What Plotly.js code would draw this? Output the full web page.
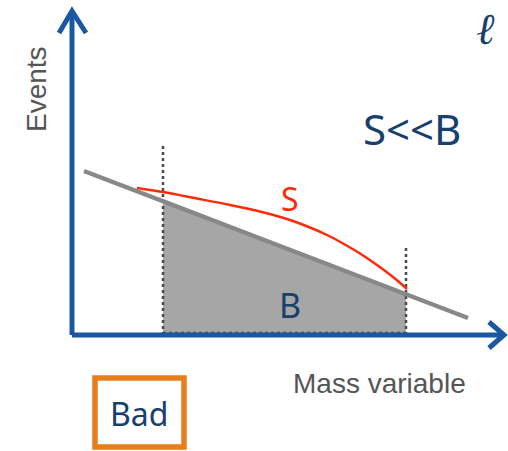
<!DOCTYPE html>
<html>
<head>
<meta charset="utf-8">
<script src="https://cdn.plot.ly/plotly-3.0.1.min.js"></script>
<style>html,body{margin:0;padding:0;background:#fff;}#chart{width:508px;height:451px;}</style>
</head>
<body>
<div id="chart"></div>
<script>
// Background model line (mass variable vs events)
const bkgX = [12, 396];
const bkgY = [164, 17];
// Signal + background curve
const sigX = [65, 91, 125, 158, 188, 205, 221, 238, 255, 271, 288, 305, 321, 335];
const sigY = [147, 143, 136.5, 130, 123.5, 119, 114, 107.5, 100, 91.5, 81.5, 70, 58, 46];
// Mass window (shaded background region)
const winX = [91, 91, 334, 334];
const winY = [0, 136, 42, 0];
// Window edges (dotted)
const leftCutX = [91, 91], leftCutY = [0, 191];
const rightCutX = [334, 334], rightCutY = [0, 90];
const floorX = [91, 334], floorY = [2, 2];
// Axes with arrows
const yAxX = [0, 0, null, -13, 0, 14], yAxY = [0, 324, null, 302, 324, 302];
const xAxX = [0, 432, null, 417, 432, 417], xAxY = [0, 0, null, 13, 0, -13];

const navy = '#17406d';
const blue = '#1a58a3';

const traces = [
  {x: winX, y: winY, mode: 'lines', fill: 'toself', fillcolor: '#a6a6a6', line: {width: 0, color: '#a6a6a6'}, hoverinfo: 'skip'},
  {x: leftCutX, y: leftCutY, mode: 'lines', line: {color: '#4a4a4a', width: 2.5, dash: 'dot'}},
  {x: rightCutX, y: rightCutY, mode: 'lines', line: {color: '#4a4a4a', width: 2.5, dash: 'dot'}},
  {x: floorX, y: floorY, mode: 'lines', line: {color: '#4a4a4a', width: 2.5, dash: 'dot'}},
  {x: bkgX, y: bkgY, mode: 'lines', line: {color: '#888888', width: 4.5}},
  {x: sigX, y: sigY, mode: 'lines', line: {color: '#ff2a0a', width: 2.5, shape: 'spline', smoothing: 1}},
  {x: yAxX, y: yAxY, mode: 'lines', line: {color: blue, width: 5}, connectgaps: false},
  {x: xAxX, y: xAxY, mode: 'lines', line: {color: blue, width: 5}, connectgaps: false}
];

const layout = {
  width: 508, height: 451,
  margin: {l: 0, r: 0, t: 0, b: 0},
  paper_bgcolor: '#ffffff', plot_bgcolor: '#ffffff',
  showlegend: false,
  xaxis: {range: [-72, 436], visible: false, fixedrange: true},
  yaxis: {range: [-116, 335], visible: false, fixedrange: true},
  shapes: [
    {type: 'rect', xref: 'x', yref: 'y', x0: 23, x1: 112, y0: -112, y1: -43, line: {color: '#e67e1c', width: 5.5}, fillcolor: '#ffffff', layer: 'below'}
  ],
  annotations: [
    {x: 340, y: 207, text: 'S<<B', showarrow: false, font: {family: 'Noto Sans', size: 42, color: navy}},
    {x: 218, y: 137, text: 'S', showarrow: false, font: {family: 'Noto Sans', size: 32, color: '#ff2a0a'}},
    {x: 218, y: 30, text: 'B', showarrow: false, font: {family: 'Noto Sans', size: 34, color: navy}},
    {x: 67, y: -78, text: 'Bad', showarrow: false, font: {family: 'Noto Sans', size: 32, color: navy}},
    {x: 307, y: -48, text: 'Mass variable', showarrow: false, font: {family: 'Liberation Sans', size: 28, color: '#555555'}},
    {x: -36, y: 246, text: 'Events', textangle: -90, showarrow: false, font: {family: 'Liberation Sans', size: 28, color: '#555555'}},
    {x: 414, y: 334, yanchor: 'top', text: '<i><b>ℓ</b></i>', showarrow: false, font: {family: 'DejaVu Serif', size: 44, color: navy}}
  ]
};

Plotly.newPlot('chart', traces, layout, {staticPlot: true, displayModeBar: false});
</script>
</body>
</html>
